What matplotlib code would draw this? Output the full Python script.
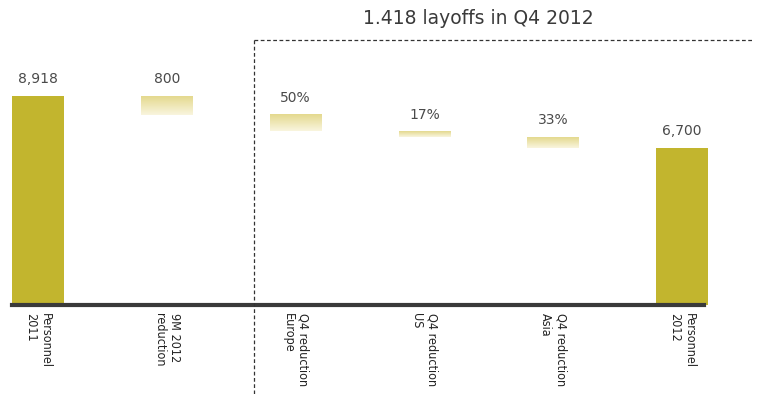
import numpy as np
import matplotlib
matplotlib.use("Agg")
import matplotlib.pyplot as plt
from matplotlib.colors import LinearSegmentedColormap

# headcount bridge: start, reductions, end
categories = ["Personnel\n2011", "9M 2012\nreduction", "Q4 reduction\nEurope",
              "Q4 reduction\nUS", "Q4 reduction\nAsia", "Personnel\n2012"]
start_total = 8918
reductions = [800, 709, 241, 468]
end_total = 6700
value_labels = ["8,918", "800", "50%", "17%", "33%", "6,700"]
title = "1.418 layoffs in Q4 2012"

SOLID = "#c2b52e"
fade = LinearSegmentedColormap.from_list("fade", ["#f9f5de", "#e4d98e"])

fig = plt.figure(figsize=(7.62, 3.94), dpi=100)
ax = fig.add_axes([0, 89 / 394, 1, 305 / 394])

x = np.arange(len(categories))
width = 0.4

# solid totals
ax.bar([x[0], x[-1]], [start_total, end_total], width=width, color=SOLID, zorder=2)

# floating reduction bars with a vertical gradient
grad = np.linspace(0, 1, 64).reshape(-1, 1)
level = start_total
tops = [start_total]
for i, r in enumerate(reductions, start=1):
    top, bottom = level, level - r
    ax.imshow(grad, cmap=fade, aspect="auto", origin="lower",
              extent=(x[i] - width / 2, x[i] + width / 2, bottom, top), zorder=2)
    tops.append(top)
    level = bottom
tops.append(end_total)

for xi, t, lab in zip(x, tops, value_labels):
    ax.annotate(lab, (xi, t), xytext=(0, 7), textcoords="offset points",
                ha="center", va="bottom", fontsize=10, color="#4a4a4a",
                family="DejaVu Sans")

# dashed frame around the Q4 section
y_top = (305 - 40) / 305 * 13012
ax.plot([1.677, 1.677], [y_top, -3800], ls=(0, (3, 2)), lw=0.9,
        color="#333333", clip_on=False, zorder=3)
ax.plot([1.677, 5.543], [y_top, y_top], ls=(0, (3, 2)), lw=0.9,
        color="#333333", clip_on=False, zorder=3)

fig.text(478 / 762, 1 - 18 / 394, title, ha="center", va="center",
         fontsize=13.5, color="#3a3a3a", family="DejaVu Sans")

ax.set_xlim(-0.295, 5.621)
ax.set_ylim(0, 13012)
ax.set_yticks([])
ax.set_xticks(x)
ax.set_xticklabels(categories, rotation=270, ha="center", va="top",
                   multialignment="left", fontsize=9, color="#222222",
                   family="DejaVu Sans", fontstretch="condensed")
ax.tick_params(axis="x", length=0, pad=6)
for side in ["top", "left", "right"]:
    ax.spines[side].set_visible(False)
ax.spines["bottom"].set_bounds(-0.2, 5.17)
ax.spines["bottom"].set_linewidth(3)
ax.spines["bottom"].set_color("#3a3a3a")
ax.patch.set_alpha(0)

fig.savefig("out.png", dpi=100)
